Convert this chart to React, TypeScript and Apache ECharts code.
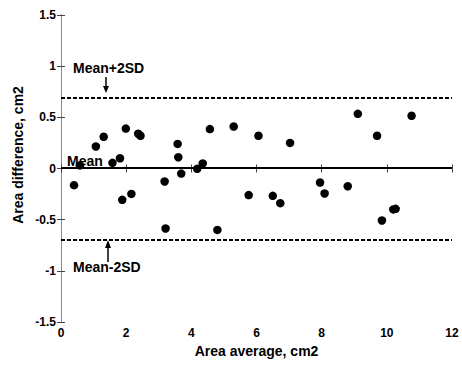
import React, { useEffect, useRef } from "react";
import * as echarts from "echarts";

const xValues = [0.4, 0.58, 1.07, 1.31, 1.58, 1.81, 1.88, 1.99, 2.16, 2.37, 2.44, 3.18, 3.21, 3.58, 3.6, 3.69, 4.18, 4.35, 4.57, 4.8, 5.3, 5.76, 6.06, 6.5, 6.73, 7.03, 7.95, 8.09, 8.8, 9.11, 9.7, 9.85, 10.2, 10.27, 10.76];
const yValues = [-0.163, 0.03, 0.215, 0.31, 0.055, 0.1, -0.306, 0.39, -0.248, 0.34, 0.32, -0.127, -0.586, 0.24, 0.11, -0.05, -0.003, 0.05, 0.385, -0.6, 0.41, -0.26, 0.32, -0.267, -0.339, 0.25, -0.137, -0.244, -0.173, 0.534, 0.32, -0.508, -0.4, -0.394, 0.515];
const meanValue = 0.01;
const upperLimit = 0.69;
const lowerLimit = -0.7;
const xTitle = "Area average, cm2";
const yTitle = "Area difference, cm2";
const upperLabel = "Mean+2SD";
const meanLabel = "Mean";
const lowerLabel = "Mean-2SD";

const FONT = "'Liberation Sans', Arial, sans-serif";

export default function App() {
  const ref = useRef<HTMLDivElement>(null);
  useEffect(() => {
    if (!ref.current) return;
    const chart = echarts.init(ref.current, undefined, { renderer: "svg" });
    const frame = "#8a8a8a";
    const tickColor = "#444";
    const axisCommon = {
      type: "value" as const,
      axisLine: { show: true, lineStyle: { color: frame, width: 1 } },
      axisTick: { show: true, inside: true, length: 4, lineStyle: { color: tickColor } },
      splitLine: { show: false },
    };
    const labelStyle = { color: "#000", fontFamily: FONT, fontWeight: "bold" as const, fontSize: 12 };
    const data = xValues.map((x, i) => [x, yValues[i]]);
    chart.setOption({
      animation: false,
      backgroundColor: "#fff",
      grid: { left: 61, right: 10, top: 15, bottom: 43 },
      xAxis: [
        {
          ...axisCommon,
          min: 0, max: 12, interval: 2,
          position: "bottom",
          axisLabel: { ...labelStyle, margin: 5 },
          name: xTitle,
          nameLocation: "middle",
          nameGap: 20,
          nameTextStyle: { color: "#000", fontFamily: FONT, fontSize: 14, fontWeight: "bold" },
        },
        {
          ...axisCommon,
          min: 0, max: 12, interval: 2,
          position: "top",
          axisLabel: { show: false },
        },
      ],
      yAxis: [
        {
          ...axisCommon,
          min: -1.5, max: 1.5, interval: 0.5,
          position: "left",
          axisLabel: { ...labelStyle, margin: 5 },
        },
        {
          ...axisCommon,
          min: -1.5, max: 1.5, interval: 0.5,
          position: "right",
          axisLabel: { show: false },
        },
      ],
      series: [
        {
          type: "scatter",
          data,
          symbol: "circle",
          symbolSize: 8.5,
          itemStyle: { color: "#000", opacity: 1 },
          markLine: {
            silent: true,
            symbol: "none",
            label: { show: false },
            data: [
              { yAxis: meanValue, lineStyle: { type: "solid", color: "#000", width: 2, opacity: 1 } },
              { yAxis: upperLimit, lineStyle: { type: [4, 2], color: "#000", width: 2, opacity: 1 } },
              { yAxis: lowerLimit, lineStyle: { type: [4, 2], color: "#000", width: 2, opacity: 1 } },
            ],
          },
        },
      ],
      graphic: [
        {
          type: "text", x: 18, y: 155, rotation: Math.PI / 2,
          style: { text: yTitle, fill: "#000", font: `bold 14px ${FONT}`, textAlign: "center", textVerticalAlign: "middle" },
        },
        {
          type: "text", x: 73, y: 68,
          style: { text: upperLabel, fill: "#000", font: `bold 14px ${FONT}`, textAlign: "left", textVerticalAlign: "middle" },
        },
        {
          type: "text", x: 67, y: 161,
          style: { text: meanLabel, fill: "#000", font: `bold 14px ${FONT}`, textAlign: "left", textVerticalAlign: "middle" },
        },
        {
          type: "text", x: 73, y: 267,
          style: { text: lowerLabel, fill: "#000", font: `bold 14px ${FONT}`, textAlign: "left", textVerticalAlign: "middle" },
        },
        { type: "line", shape: { x1: 106, y1: 77, x2: 106, y2: 88 }, style: { stroke: "#000", lineWidth: 1.5 } },
        { type: "polygon", shape: { points: [[103, 86], [109, 86], [106, 93]] }, style: { fill: "#000" } },
        { type: "line", shape: { x1: 108, y1: 262, x2: 108, y2: 246 }, style: { stroke: "#000", lineWidth: 1.5 } },
        { type: "polygon", shape: { points: [[105, 248], [111, 248], [108, 240]] }, style: { fill: "#000" } },
      ],
    });
    return () => chart.dispose();
  }, []);
  return <div ref={ref} style={{ position: "fixed", left: 0, top: 0, width: 462, height: 365 }} />;
}
